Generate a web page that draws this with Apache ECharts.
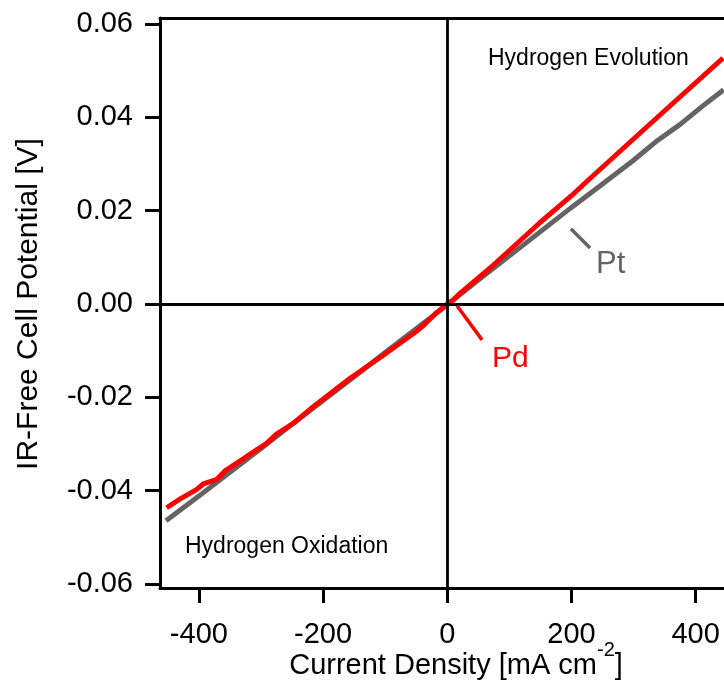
<!DOCTYPE html>
<html>
<head>
<meta charset="utf-8">
<script src="https://cdn.jsdelivr.net/npm/echarts@6/dist/echarts.min.js"></script>
<style>
html,body{margin:0;padding:0;background:#fff;}
#c{width:724px;height:700px;}
</style>
</head>
<body>
<div id="c"></div>
<script>
// Data
var ptCurrent = [-453, -400, -350, -300, -250, -200, -150, -100, -50, 0, 50, 100, 150, 200, 250, 300, 338, 375, 410, 445];
var ptPotential = [-0.0465, -0.0412, -0.0361, -0.0310, -0.0258, -0.0207, -0.0156, -0.0104, -0.0053, -0.0002, 0.0051, 0.0103, 0.0155, 0.0207, 0.0257, 0.0308, 0.0350, 0.0385, 0.0423, 0.0459];
var pdCurrent = [-452, -430, -404, -393, -371, -358, -323, -291, -275, -248, -221, -157, -103, -49, -36, -20, 0, 9, 20, 69, 149, 200, 225, 330, 444];
var pdPotential = [-0.0437, -0.0418, -0.0398, -0.0386, -0.0376, -0.0358, -0.0327, -0.0299, -0.0279, -0.0256, -0.0226, -0.0160, -0.0110, -0.0058, -0.0043, -0.0022, 0.0000, 0.0008, 0.0022, 0.0077, 0.0174, 0.0232, 0.0263, 0.0390, 0.0527];
var xTicks = [-400, -200, 0, 200, 400];
var yTicks = [-0.06, -0.04, -0.02, 0.00, 0.02, 0.04, 0.06];
var ptLeader = [[199, 0.0161], [230, 0.0120]];
var pdLeader = [[15.6, -0.0004], [56, -0.0077]];

function pairs(xs, ys) { return xs.map(function (x, i) { return [x, ys[i]]; }); }

var FONT = '"Liberation Sans", Arial, sans-serif';
var chart = echarts.init(document.getElementById('c'), null, {renderer: 'canvas'});
chart.setOption({
  animation: false,
  backgroundColor: '#fff',
  grid: {left: 160, right: 0, top: 18, bottom: 112, containLabel: false},
  xAxis: [{
    type: 'value', min: -462.6, max: 445.6,
    axisLine: {show: true, onZero: false, lineStyle: {color: '#000', width: 3}},
    axisTick: {show: true, inside: false, length: 15, lineStyle: {color: '#000', width: 3}, customValues: xTicks},
    axisLabel: {show: true, margin: 32, color: '#000', fontSize: 29, fontFamily: FONT, customValues: xTicks, formatter: function (v) { return String(v); }},
    splitLine: {show: false}
  }, {
    type: 'value', min: -462.6, max: 445.6, position: 'top',
    axisLine: {show: true, onZero: false, lineStyle: {color: '#000', width: 3}},
    axisTick: {show: false}, axisLabel: {show: false}, splitLine: {show: false}
  }],
  yAxis: {
    type: 'value', min: -0.0609, max: 0.0613,
    axisLine: {show: true, onZero: false, lineStyle: {color: '#000', width: 3}},
    axisTick: {show: true, inside: false, length: 15, lineStyle: {color: '#000', width: 3}, customValues: yTicks},
    axisLabel: {show: true, margin: 27, color: '#000', fontSize: 29, fontFamily: FONT, customValues: yTicks, formatter: function (v) { return v.toFixed(2); }},
    splitLine: {show: false}
  },
  series: [{
    name: 'Pt', type: 'line', data: pairs(ptCurrent, ptPotential),
    showSymbol: false, symbol: 'none', lineStyle: {color: '#646464', width: 5}, z: 3,
    markLine: {
      silent: true, symbol: 'none', label: {show: false},
      lineStyle: {color: '#000', width: 2.8, type: 'solid'},
      data: [{xAxis: 0}, {yAxis: 0},
        [{coord: ptLeader[0], lineStyle: {color: '#646464', width: 3.5}}, {coord: ptLeader[1]}]]
    }
  }, {
    name: 'Pd', type: 'line', data: pairs(pdCurrent, pdPotential),
    showSymbol: false, symbol: 'none', lineStyle: {color: '#ff0000', width: 5}, z: 4,
    markLine: {
      silent: true, symbol: 'none', label: {show: false},
      lineStyle: {color: '#ff0000', width: 3.5, type: 'solid'},
      data: [[{coord: pdLeader[0]}, {coord: pdLeader[1]}]]
    }
  }],
  graphic: [
    {type: 'text', x: 29, y: 304, rotation: Math.PI / 2,
      style: {text: 'IR-Free Cell Potential [V]', font: '30px ' + FONT, fill: '#000', align: 'center', verticalAlign: 'middle'}},
    {type: 'text', x: 456, y: 666,
      style: {text: '{a|Current Density [mA cm}{s|-2}{a|]}', align: 'center', verticalAlign: 'middle',
        rich: {a: {fontSize: 29, fontFamily: FONT, fill: '#000', color: '#000'},
               s: {fontSize: 20, fontFamily: FONT, fill: '#000', color: '#000', verticalAlign: 'top', padding: [0, 0, 32, 0]}}}},
    {type: 'text', x: 488, y: 59,
      style: {text: 'Hydrogen Evolution', font: '23px ' + FONT, fill: '#000', align: 'left', verticalAlign: 'middle'}},
    {type: 'text', x: 185, y: 547,
      style: {text: 'Hydrogen Oxidation', font: '23px ' + FONT, fill: '#000', align: 'left', verticalAlign: 'middle'}},
    {type: 'text', x: 596, y: 264,
      style: {text: 'Pt', font: '31px ' + FONT, fill: '#646464', align: 'left', verticalAlign: 'middle'}},
    {type: 'text', x: 492, y: 359,
      style: {text: 'Pd', font: '30px ' + FONT, fill: '#ff0000', align: 'left', verticalAlign: 'middle'}}
  ]
});
</script>
</body>
</html>
